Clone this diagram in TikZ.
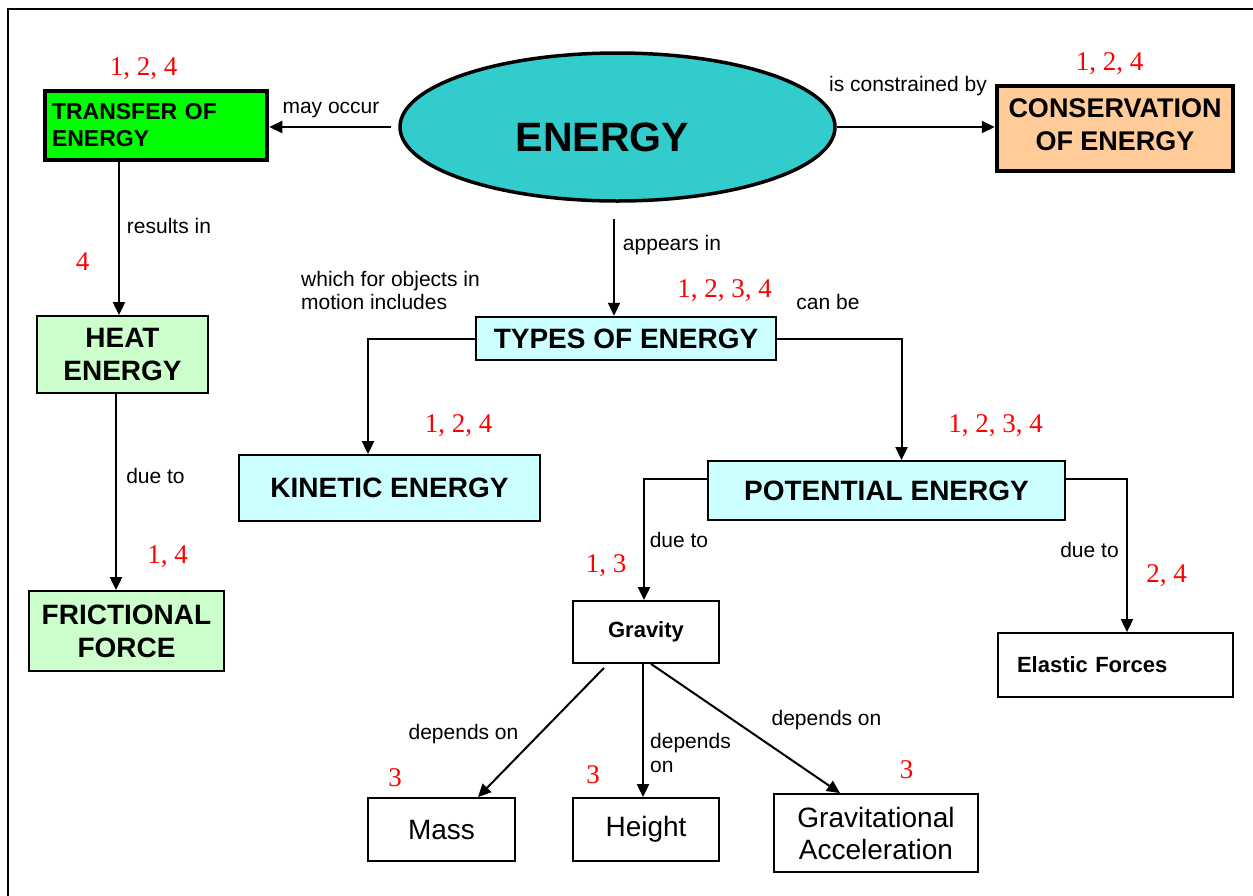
\documentclass[tikz,border=0pt]{standalone}
\usepackage{fontspec}
\setmainfont{Liberation Sans}
\newfontfamily\tnr{Liberation Serif}
\usetikzlibrary{arrows.meta,shapes.geometric}
\definecolor{ecyan}{HTML}{33CCCC}
\definecolor{tgreen}{HTML}{00FF00}
\definecolor{corange}{HTML}{FFCC99}
\definecolor{lcyan}{HTML}{CCFFFF}
\definecolor{lgreen}{HTML}{CCFFCC}
\begin{document}
\begin{tikzpicture}[x=1pt,y=-1pt,
  arr/.style={-{Triangle[length=13pt,width=12pt]}, line width=2pt},
  box/.style={draw, rectangle, inner sep=0pt, align=center, line width=1.8pt},
  bigf/.style={font=\bfseries\fontsize{28}{33}\selectfont},
  smallb/.style={font=\bfseries\fontsize{22}{26}\selectfont},
  plain/.style={font=\fontsize{28}{32}\selectfont},
  lab/.style={font=\fontsize{21}{23.5}\selectfont, inner sep=0pt, anchor=base},
  num/.style={font=\tnr\fontsize{27}{30}\selectfont, text=red, inner sep=0pt, anchor=base}]
\useasboundingbox (0,0) rectangle (1253,895);
\fill[white] (0,0) rectangle (1253,895);
% frame
\draw[line width=2pt] (8,900) -- (8,9) -- (1260,9);

% nodes
\node[ellipse, draw, fill=ecyan, line width=3.5pt, minimum width=435pt, minimum height=148pt, inner sep=0pt,
  label={[font=\bfseries\fontsize{41}{45}\selectfont, xshift=-15pt, yshift=-10pt]center:ENERGY}] (energy) at (617.5,127) {};
\node[box, fill=tgreen, line width=4.5pt, minimum width=222pt, minimum height=69pt, text width=208pt, inner xsep=7pt, align=left,
  font=\bfseries\fontsize{23}{27}\selectfont] (transfer) at (156,125.5) {TRANSFER OF\\ENERGY};
\node[box, fill=corange, line width=4.5pt, minimum width=236pt, minimum height=85pt,
  font=\bfseries\fontsize{27}{33}\selectfont] (cons) at (1115,128.5) {CONSERVATION\\OF ENERGY\rule[-8pt]{0pt}{1pt}};
\node[box, fill=lcyan, line width=2.5pt, minimum width=300pt, minimum height=43pt, bigf] (types) at (626,338.5) {TYPES OF ENERGY};
\node[box, fill=lcyan, minimum width=301pt, minimum height=66pt, bigf] (kinetic) at (389.5,488) {KINETIC ENERGY};
\node[box, fill=lcyan, minimum width=357pt, minimum height=59pt, bigf] (potential) at (886.5,490.5) {POTENTIAL ENERGY};
\node[box, fill=lgreen, minimum width=171pt, minimum height=77pt, bigf] (heat) at (122.5,354.5) {HEAT\\ENERGY};
\node[box, fill=lgreen, minimum width=195pt, minimum height=80pt, bigf] (friction) at (126.5,631) {FRICTIONAL\\FORCE};
\node[box, fill=white, minimum width=146pt, minimum height=62pt, smallb] (gravity) at (646,632) {Gravity};
\node[box, fill=white, minimum width=235pt, minimum height=64pt, text width=197pt, inner xsep=19pt, align=left, smallb] (elastic) at (1115.5,665) {Elastic Forces};
\node[box, fill=white, minimum width=147pt, minimum height=63pt, plain] (mass) at (441.5,829.5) {Mass};
\node[box, fill=white, minimum width=146pt, minimum height=63pt, plain] (height) at (646,829.5) {Height};
\node[box, fill=white, minimum width=204pt, minimum height=78pt, plain] (gravacc) at (876,833) {Gravitational\\Acceleration};

% connectors
\draw[arr] ([xshift=-7pt]energy.west) -- (energy.west -| transfer.east);
\draw[arr] (energy.east) -- (energy.east -| cons.west);
\draw[arr] ([xshift=-12pt,yshift=-16pt]types.north |- energy.south) -- ([xshift=-12pt]types.north);
\draw[arr] (types.west) -| ([xshift=-21.5pt]kinetic.north);
\draw[arr] (types.east) -| ([xshift=15pt]potential.north);
\draw[arr] ([yshift=11.5pt]potential.west) -| ([xshift=-2pt]gravity.north);
\draw[arr] ([yshift=11.5pt]potential.east) -| ([xshift=11.5pt]elastic.north);
\draw[arr] ([xshift=-3.5pt]heat.north |- transfer.south) -- ([xshift=-3.5pt]heat.north);
\draw[arr] ([xshift=-10.5pt]friction.north |- heat.south) -- ([xshift=-10.5pt]friction.north);
\draw[arr] ([xshift=-42pt,yshift=-4pt]gravity.south) -- ([xshift=36.5pt]mass.north);
\draw[arr] ([xshift=-3pt]gravity.south) -- ([xshift=-3pt]height.north);
\draw[arr] ([xshift=5pt]gravity.south) -- ([xshift=-36pt]gravacc.north);

% connector labels
\node[lab] (l1) at (331,113) {may occur};
\node[lab] (l2) at (908,91) {is constrained by};
\node[lab] (l3) at (169,233) {results in};
\node[lab] (l4) at (672,250) {appears in};
\node[lab, anchor=base west, align=left] (l5) at (301,309.5) {which for objects in\\motion includes};
\node[lab] (l6) at (828,309) {can be};
\node[lab] (l7) at (155.5,483) {due to};
\node[lab] (l8) at (679,547) {due to};
\node[lab] (l9) at (1089.5,557) {due to};
\node[lab] (l10) at (463.5,739) {depends on};
\node[lab, anchor=base west, align=left] (l11) at (650,772) {depends\\on};
\node[lab] (l12) at (826.5,725) {depends on};

% red numbers
\node[num] (n1) at (143.5,75) {1, 2, 4};
\node[num] (n2) at (1109.5,70) {1, 2, 4};
\node[num] (n3) at (82.5,270) {4};
\node[num] (n4) at (724.5,297) {1, 2, 3, 4};
\node[num] (n5) at (458.5,432) {1, 2, 4};
\node[num] (n6) at (995.5,432) {1, 2, 3, 4};
\node[num] (n7) at (167.5,563) {1, 4};
\node[num] (n8) at (606,572) {1, 3};
\node[num] (n9) at (1166.5,582) {2, 4};
\node[num] (n10) at (395,786) {3};
\node[num] (n11) at (593,783) {3};
\node[num] (n12) at (906.5,778) {3};
\end{tikzpicture}
\end{document}
